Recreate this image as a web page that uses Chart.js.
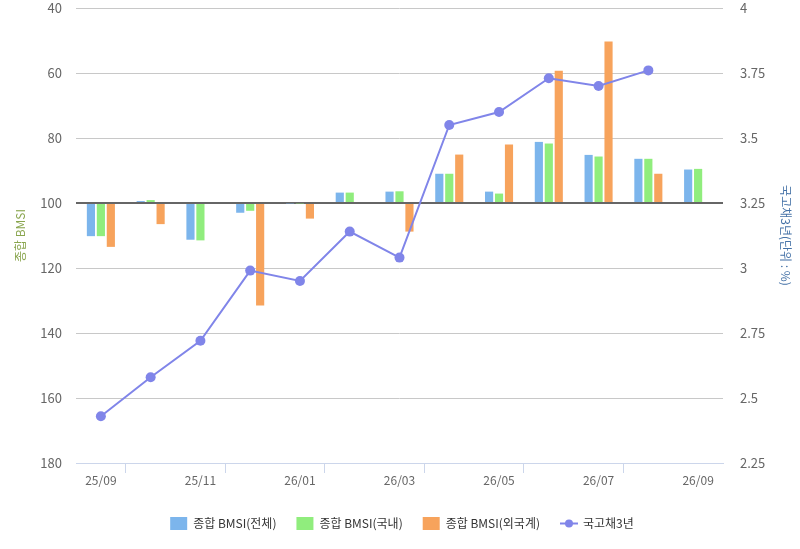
<!DOCTYPE html>
<html>
<head>
<meta charset="utf-8">
<script src="https://cdn.jsdelivr.net/npm/chart.js@4.4.1/dist/chart.umd.min.js"></script>
<style>
  html, body { margin: 0; padding: 0; background: #fff; }
  #wrap { width: 800px; height: 549px; }
</style>
</head>
<body>
<div id="wrap"><canvas id="bmsiChart"></canvas></div>
<script>
// 월별 라벨
const months = ["25/09", "25/10", "25/11", "25/12", "26/01", "26/02", "26/03",
  "26/04", "26/05", "26/06", "26/07", "26/08", "26/09"];

// 종합 BMSI (전체 / 국내 / 외국계)
const bmsiTotal = [110.2, 99.4, 111.3, 103.0, 100.2, 96.8, 96.5, 91.0, 96.5, 81.2, 85.2, 86.4, 89.7];
const bmsiDomestic = [110.2, 99.1, 111.5, 102.4, 100.2, 96.8, 96.4, 91.0, 97.1, 81.7, 85.7, 86.4, 89.5];
const bmsiForeign = [113.5, 106.5, null, 131.5, 104.8, null, 108.8, 85.1, 82.0, 59.3, 50.3, 91.0, null];

// 국고채 3년 금리 (%)
const ktb3y = [2.43, 2.58, 2.72, 2.99, 2.95, 3.14, 3.04, 3.55, 3.60, 3.73, 3.70, 3.76, null];

const FONT = "'Noto Sans CJK KR', 'Noto Sans', sans-serif";

function barSet(label, data, color) {
  return {
    type: "bar",
    label: label,
    data: data,
    base: 100, // 기준선 100에서 막대 시작
    backgroundColor: color,
    borderWidth: 0,
    categoryPercentage: 0.6,
    barPercentage: 0.82,
    yAxisID: "y",
    order: 1,
  };
}

// 범례의 국고채 항목: 선 + 점을 직접 그림
const legendLinePlugin = {
  id: "legendLine",
  afterDraw(chart) {
    const legend = chart.legend;
    if (!legend || !legend.legendItems) return;
    const ctx = chart.ctx;
    legend.legendItems.forEach(function (item, i) {
      if (item.datasetIndex !== 3) return;
      const box = legend.legendHitBoxes[i];
      const cx = box.left + 9;
      const cy = box.top + box.height / 2;
      ctx.save();
      ctx.strokeStyle = "#8085e9";
      ctx.lineWidth = 2;
      ctx.beginPath();
      ctx.moveTo(cx - 9, cy);
      ctx.lineTo(cx + 9, cy);
      ctx.stroke();
      ctx.fillStyle = "#8085e9";
      ctx.beginPath();
      ctx.arc(cx, cy, 4, 0, Math.PI * 2);
      ctx.fill();
      ctx.restore();
    });
  },
};

const ctx = document.getElementById("bmsiChart");
new Chart(ctx, {
  data: {
    labels: months,
    datasets: [
      barSet("종합 BMSI(전체)", bmsiTotal, "#7cb5ec"),
      barSet("종합 BMSI(국내)", bmsiDomestic, "#90ed7d"),
      barSet("종합 BMSI(외국계)", bmsiForeign, "#f7a35c"),
      {
        type: "line",
        label: "국고채3년",
        data: ktb3y,
        borderColor: "#8085e9",
        backgroundColor: "#8085e9",
        borderWidth: 2,
        pointRadius: 5,
        pointHoverRadius: 5,
        pointBackgroundColor: "#8085e9",
        pointBorderWidth: 0,
        tension: 0,
        yAxisID: "y1",
        order: 0,
      },
    ],
  },
  options: {
    responsive: true,
    maintainAspectRatio: false,
    animation: false,
    layout: { padding: { left: 10, right: 6, top: 0, bottom: 9 } },
    plugins: {
      tooltip: { enabled: false },
      legend: {
        position: "bottom",
        labels: {
          font: { family: FONT, size: 12 },
          color: "#333",
          boxWidth: 17,
          boxHeight: 13,
          padding: 20,
          sort: function (a, b) { return a.datasetIndex - b.datasetIndex; },
          generateLabels: function (chart) {
            const items = Chart.defaults.plugins.legend.labels.generateLabels(chart);
            items.forEach(function (it) {
              it.lineWidth = 0;
              it.strokeStyle = "rgba(0,0,0,0)";
              if (it.datasetIndex === 3) it.fillStyle = "rgba(0,0,0,0)";
            });
            return items;
          },
        },
      },
    },
    scales: {
      x: {
        offset: true,
        grid: {
          offset: true,
          drawOnChartArea: false,
          drawTicks: true,
          tickLength: 10,
          color: function (c) { return c.index % 2 === 1 ? "#ccd6eb" : "rgba(0,0,0,0)"; },
        },
        border: { color: "#ccd6eb", width: 1 },
        ticks: {
          autoSkip: false,
          maxRotation: 0,
          color: "#666",
          font: { family: FONT, size: 12 },
          padding: 0,
          callback: function (v, i) { return i % 2 === 0 ? months[i] : ""; },
        },
        afterFit: function (scale) { scale.height = 34; },
      },
      y: {
        position: "left",
        reverse: true,
        min: 40,
        max: 180,
        ticks: {
          stepSize: 20,
          color: "#666",
          font: { family: FONT, size: 13 },
          padding: 14,
        },
        grid: {
          drawTicks: false,
          color: function (c) { return c.tick.value === 100 ? "#666666" : "#c8c8c8"; },
          lineWidth: function (c) { return c.tick.value === 100 ? 2 : 1; },
        },
        border: { display: false },
        title: {
          display: true,
          text: "종합 BMSI",
          color: "#89a54e",
          font: { family: FONT, size: 12 },
          padding: { top: 3, bottom: 0 },
        },
        afterFit: function (scale) {
          scale.width = 66;
          scale.paddingTop = 8;
          scale.paddingBottom = 0;
        },
      },
      y1: {
        position: "right",
        min: 2.25,
        max: 4,
        ticks: {
          stepSize: 0.25,
          color: "#666",
          font: { family: FONT, size: 13 },
          padding: 17,
          callback: function (v) { return String(+v.toFixed(2)); },
        },
        grid: { drawOnChartArea: false, drawTicks: false },
        border: { display: false },
        title: {
          display: true,
          text: "국고채3년(단위 : %)",
          color: "#4572a7",
          font: { family: FONT, size: 12 },
          padding: { top: 1, bottom: 0 },
        },
        afterFit: function (scale) {
          scale.width = 71;
          scale.paddingTop = 8;
          scale.paddingBottom = 0;
        },
      },
    },
  },
  plugins: [legendLinePlugin],
});
</script>
</body>
</html>
